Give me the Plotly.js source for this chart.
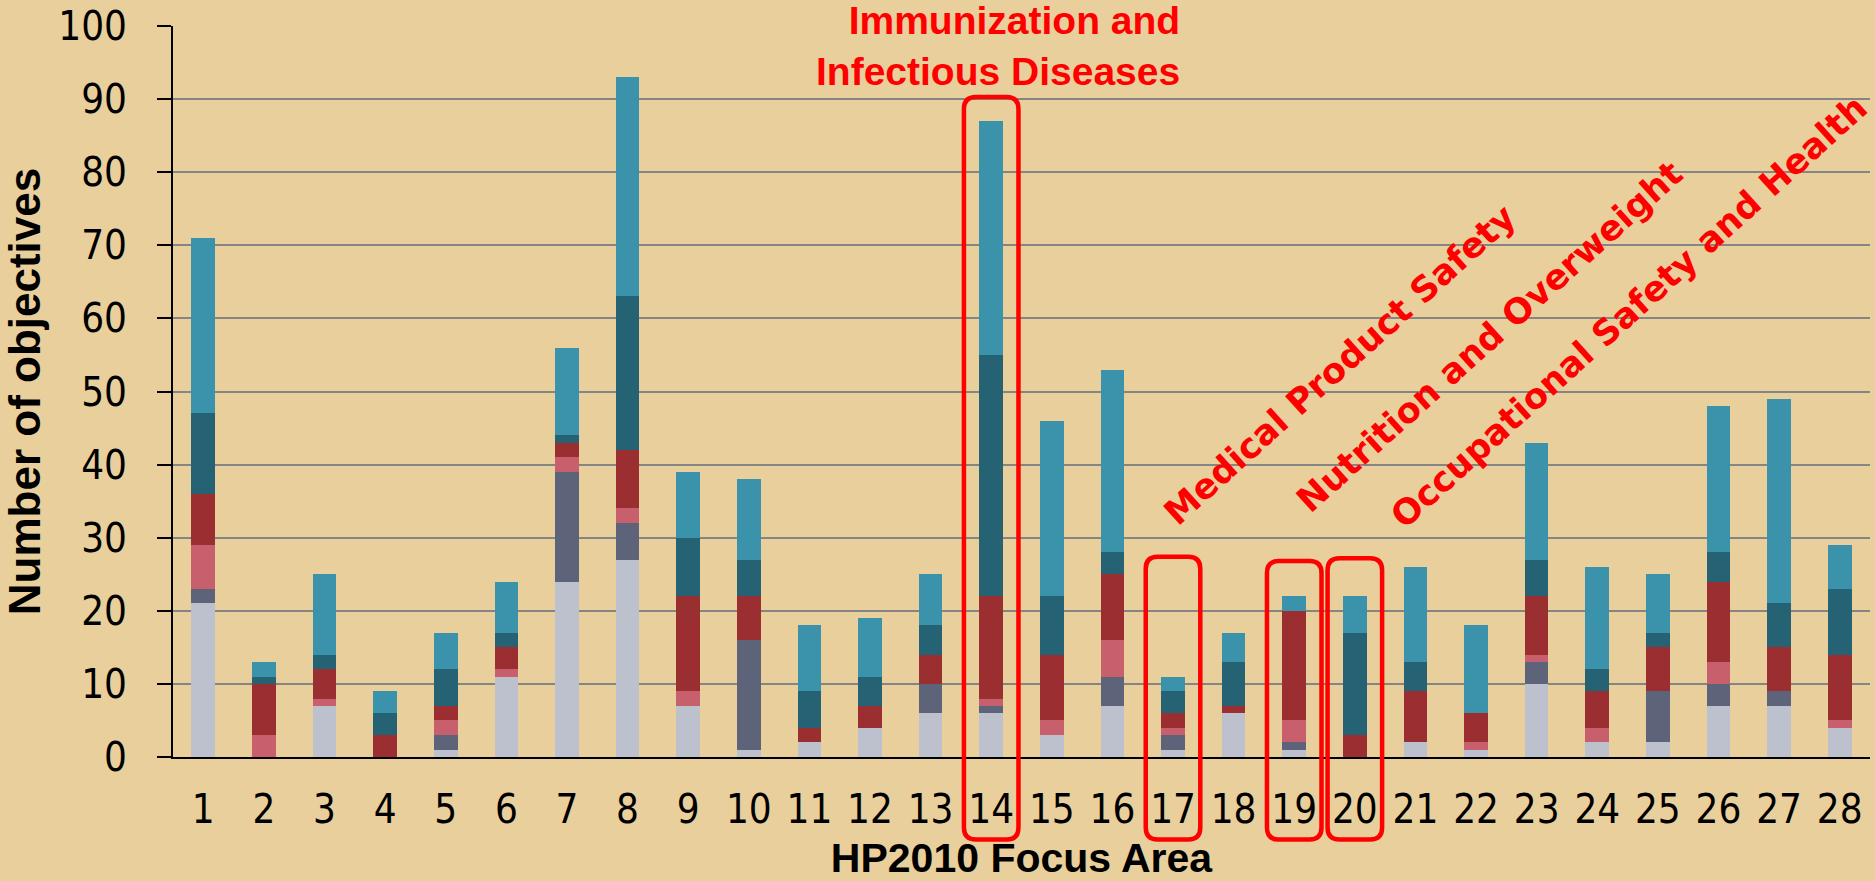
<!DOCTYPE html>
<html>
<head>
<meta charset="utf-8">
<script src="https://cdn.plot.ly/plotly-3.0.1.min.js"></script>
<style>
html,body{margin:0;padding:0;background:#E9CF9C;}
#chart{width:1875px;height:881px;}
</style>
</head>
<body>
<div id="chart"></div>
<script>
// Focus areas (x categories)
const focusAreas = ['1','2','3','4','5','6','7','8','9','10','11','12','13','14','15','16','17','18','19','20','21','22','23','24','25','26','27','28'];

// Stacked series, bottom to top
const seriesA = [21,0,7,0,1,11,24,27,7,1,2,4,6,6,3,7,1,6,1,0,2,1,10,2,2,7,7,4];   // light gray-blue
const seriesB = [2,0,0,0,2,0,15,5,0,15,0,0,4,1,0,4,2,0,1,0,0,0,3,0,7,3,2,0];       // slate
const seriesC = [6,3,1,0,2,1,2,2,2,0,0,0,0,1,2,5,1,0,3,0,0,1,1,2,0,3,0,1];         // pink
const seriesD = [7,7,4,3,2,3,2,8,13,6,2,3,4,14,9,9,2,1,15,3,7,4,8,5,6,11,6,9];     // dark red
const seriesE = [11,1,2,3,5,2,1,21,8,5,5,4,4,33,8,3,3,6,0,14,4,0,5,3,2,4,6,9];     // dark teal
const seriesF = [24,2,11,3,5,7,12,30,9,11,9,8,7,32,24,25,2,4,2,5,13,12,16,14,8,20,28,6]; // light teal

const seriesColors = ['#BCC1CD','#5D6378','#C85F6C','#9A2E31','#256274','#3A92AB'];
const seriesList = [seriesA, seriesB, seriesC, seriesD, seriesE, seriesF];

// Highlighted focus areas
const highlighted = ['14','17','19','20'];
const highlightTops = [90.3, 27.4, 26.8, 27.2]; // top of each box, in axis units
const boxBottom = -11.3; // axis units (below the axis)

const traces = seriesList.map((vals, k) => ({
  type: 'bar',
  x: focusAreas,
  y: vals,
  marker: {color: seriesColors[k], line: {width: 0}},
  hoverinfo: 'x+y',
  showlegend: false
}));

const plotL = 173, plotR = 4.5, plotT = 25.7, plotB = 123.7;
const W = 1875, H = 881;
const pw = W - plotL - plotR, ph = H - plotT - plotB;
const n = focusAreas.length;

function roundedRect(x0, x1, y0, y1, rpx) {
  const rx = rpx / pw, ry = rpx / ph;
  return `M ${x0+rx},${y1} L ${x1-rx},${y1} Q ${x1},${y1} ${x1},${y1-ry} ` +
         `L ${x1},${y0+ry} Q ${x1},${y0} ${x1-rx},${y0} L ${x0+rx},${y0} ` +
         `Q ${x0},${y0} ${x0},${y0+ry} L ${x0},${y1-ry} Q ${x0},${y1} ${x0+rx},${y1} Z`;
}

const shapes = highlighted.map((lab, k) => {
  const i = focusAreas.indexOf(lab);
  const cx = (i + 0.5) / n;
  const hw = 0.45 / n;
  const yTop = highlightTops[k] / 100;
  const yBot = boxBottom / 100;
  return {
    type: 'path', xref: 'paper', yref: 'paper',
    path: roundedRect(cx - hw, cx + hw, yBot, yTop, 12),
    line: {color: '#FF0000', width: 4.5},
    fillcolor: 'rgba(0,0,0,0)',
    layer: 'above'
  };
});

const redBold = {family: 'DejaVu Sans, Verdana, sans-serif', size: 35, color: '#FF0000', weight: 'bold'};

const annotations = [
  {
    text: 'Immunization and<br>Infectious Diseases',
    xref: 'paper', yref: 'paper', x: 0.5944, y: 0.972,
    xanchor: 'right', yanchor: 'middle', align: 'right', showarrow: false,
    font: {family: 'Liberation Sans, Arial, sans-serif', size: 39, color: '#FF0000', weight: 'bold'}
  },
  {
    text: '<b>Medical Product Safety</b>', xref: 'paper', yref: 'paper',
    x: 0.6875, y: 0.536, xanchor: 'center', yanchor: 'middle',
    textangle: -42, showarrow: false, font: redBold
  },
  {
    text: '<b>Nutrition and Overweight</b>', xref: 'paper', yref: 'paper',
    x: 0.7758, y: 0.574, xanchor: 'center', yanchor: 'middle',
    textangle: -42, showarrow: false, font: redBold
  },
  {
    text: '<b>Occupational Safety and Health</b>', xref: 'paper', yref: 'paper',
    x: 0.8577, y: 0.609, xanchor: 'center', yanchor: 'middle',
    textangle: -42, showarrow: false, font: redBold
  }
];

const tickFont = {family: 'Liberation Sans Narrow, DejaVu Sans Condensed, Liberation Sans, sans-serif', size: 40, color: '#000000'};

const layout = {
  width: W, height: H,
  paper_bgcolor: '#E9CF9C',
  plot_bgcolor: '#E9CF9C',
  barmode: 'stack',
  bargap: 0.61,
  margin: {l: plotL, r: plotR, t: plotT, b: plotB, pad: 0},
  xaxis: {
    type: 'category',
    showgrid: false,
    showline: true, linecolor: '#000000', linewidth: 2,
    ticks: '', tickfont: tickFont,
    ticklabelstandoff: 16,
    automargin: false,
    title: {text: 'HP2010 Focus Area', standoff: 16,
            font: {family: 'Liberation Sans, Arial, sans-serif', size: 41, color: '#000000', weight: 'bold'}}
  },
  yaxis: {
    range: [0, 100],
    dtick: 10,
    showgrid: true, gridcolor: '#858585', gridwidth: 2,
    zeroline: false,
    showline: true, linecolor: '#000000', linewidth: 2,
    ticks: 'outside', ticklen: 14, tickwidth: 2, tickcolor: '#000000',
    tickfont: tickFont,
    ticklabelstandoff: 22,
    automargin: false,
    title: {text: 'Number of objectives', standoff: 14,
            font: {family: 'Liberation Sans, Arial, sans-serif', size: 44, color: '#000000', weight: 'bold'}}
  },
  shapes: shapes,
  annotations: annotations,
  showlegend: false
};

Plotly.newPlot('chart', traces, layout, {displayModeBar: false, staticPlot: true});
</script>
</body>
</html>
